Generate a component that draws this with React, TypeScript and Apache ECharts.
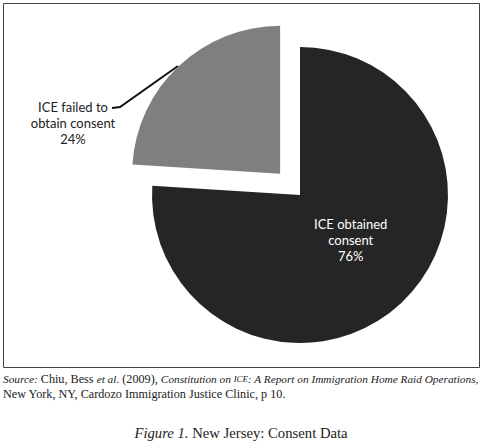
import React, { useEffect, useRef } from "react";
import * as echarts from "echarts";

const categories = ["ICE obtained consent", "ICE failed to obtain consent"];
const labelTexts = ["ICE obtained\nconsent", "ICE failed to\nobtain consent"];
const values = [76, 24];
const colors = ["#252525", "#7f7f7f"];

export default function App() {
  const ref = useRef<HTMLDivElement>(null);
  useEffect(() => {
    if (!ref.current) return;
    const chart = echarts.init(ref.current, null, { renderer: "svg" });
    const serif = "Liberation Serif";
    chart.setOption({
      animation: false,
      graphic: [
        {
          type: "rect",
          shape: { x: 3.5, y: 3.5, width: 476, height: 364 },
          style: { fill: "none", stroke: "#444", lineWidth: 1 },
          silent: true,
        },
        {
          type: "polyline",
          shape: { points: [[178, 66], [120, 107], [112, 108]] },
          style: { fill: "none", stroke: "#111", lineWidth: 2 },
          silent: true,
        },
        {
          type: "text",
          x: 73,
          y: 123,
          style: {
            text: `${labelTexts[1]}\n${values[1]}%`,
            fontFamily: "Lato",
            fontSize: 13,
            lineHeight: 16,
            fill: "#222",
            align: "center",
            verticalAlign: "middle",
          },
        },
        {
          type: "text",
          x: 3,
          y: 379,
          style: {
            text:
              "{i|Source:} Chiu, Bess {i|et al.} (2009), {i|Constitution on }{sc|ICE}{i|: A Report on Immigration Home Raid Operations,}",
            fontFamily: serif,
            fontSize: 12.2,
            fill: "#222",
            verticalAlign: "middle",
            rich: {
              i: { fontStyle: "italic", fontFamily: serif, fontSize: 11.3, fill: "#222" },
              sc: { fontStyle: "italic", fontFamily: serif, fontSize: 8.8, fill: "#222" },
            },
          },
        },
        {
          type: "text",
          x: 3,
          y: 394,
          style: {
            text: "New York, NY, Cardozo Immigration Justice Clinic, p 10.",
            fontFamily: serif,
            fontSize: 12.2,
            fill: "#222",
            verticalAlign: "middle",
          },
        },
        {
          type: "text",
          x: 241,
          y: 433,
          style: {
            text: "{i|Figure 1.} New Jersey: Consent Data",
            fontFamily: serif,
            fontSize: 14.7,
            fill: "#222",
            align: "center",
            verticalAlign: "middle",
            rich: {
              i: { fontStyle: "italic", fontFamily: serif, fontSize: 14.7, fill: "#222" },
            },
          },
        },
      ],
      series: [
        {
          type: "pie",
          center: [300, 195],
          radius: 148,
          startAngle: 90,
          clockwise: true,
          selectedMode: "single",
          selectedOffset: 29,
          emphasis: { disabled: true },
          itemStyle: { borderWidth: 0 },
          label: {
            show: true,
            position: "inside",
            fontFamily: "Lato",
            fontSize: 13,
            lineHeight: 16,
            align: "center",
            color: "#fff",
            formatter: (p: any) => `${labelTexts[p.dataIndex]}\n${p.value}%`,
          },
          labelLine: { show: false },
          labelLayout: (p: any) => {
            if (p.dataIndex === 0) return { dx: -2, dy: -11 };
            return {};
          },
          data: categories.map((name, i) => ({
            name,
            value: values[i],
            selected: i === 1,
            itemStyle: { color: colors[i] },
            label: { show: i === 0 },
          })),
        },
      ],
    });
    return () => chart.dispose();
  }, []);
  return (
    <div
      ref={ref}
      style={{ position: "fixed", left: 0, top: 0, width: 483, height: 443, background: "#fff" }}
    />
  );
}
